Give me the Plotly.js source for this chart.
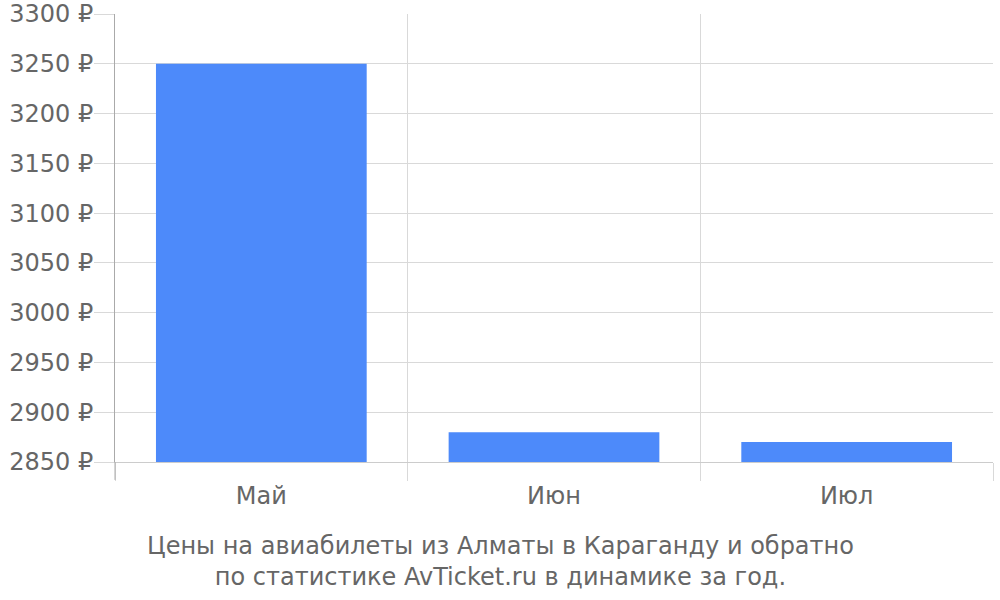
<!DOCTYPE html>
<html>
<head>
<meta charset="utf-8">
<script src="https://cdn.plot.ly/plotly-3.0.1.min.js"></script>
<style>
  html, body { margin: 0; padding: 0; background: #fff; }
  #chart { width: 1000px; height: 600px; }
</style>
</head>
<body>
<div id="chart"></div>
<script>
const months = ["Май", "Июн", "Июл"];
const prices = [3250, 2880, 2870];
const caption = "Цены на авиабилеты из Алматы в Караганду и обратно<br>по статистике AvTicket.ru в динамике за год.";

const textColor = "#666666";
const gridColor = "#d9d9d9";

const trace = {
  type: "bar",
  x: months,
  y: prices,
  width: 0.72,
  marker: { color: "#4d8afa" },
  hoverinfo: "x+y"
};

const layout = {
  width: 1000,
  height: 600,
  margin: { l: 115, r: 7, t: 14, b: 138 },
  paper_bgcolor: "#ffffff",
  plot_bgcolor: "#ffffff",
  font: { family: "DejaVu Sans, sans-serif", size: 24, color: textColor },
  showlegend: false,
  bargap: 0.28,
  xaxis: {
    type: "category",
    tickson: "boundaries",
    ticks: "outside",
    ticklen: 18,
    tickcolor: gridColor,
    ticklabelstandoff: 12,
    showgrid: true,
    gridcolor: gridColor,
    showline: true,
    linecolor: "#cccccc",
    tickfont: { size: 24, color: textColor },
    fixedrange: true
  },
  yaxis: {
    range: [2850, 3300],
    dtick: 50,
    tick0: 2850,
    ticksuffix: " ₽",
    ticks: "outside",
    ticklen: 20,
    tickcolor: gridColor,
    ticklabelstandoff: -4,
    showgrid: true,
    gridcolor: gridColor,
    showline: true,
    linecolor: "#aaaaaa",
    zeroline: false,
    tickfont: { size: 24, color: textColor },
    fixedrange: true
  },
  shapes: [{
    type: "line",
    xref: "paper", yref: "paper",
    x0: 0, x1: 0, y0: -0.04, y1: 0,
    line: { color: "#aaaaaa", width: 1 }
  }],
  annotations: [{
    text: caption,
    xref: "paper", yref: "paper",
    x: (500 - 115) / 878, y: -0.222,
    xanchor: "center", yanchor: "middle",
    showarrow: false,
    font: { size: 24, color: textColor }
  }]
};

Plotly.newPlot("chart", [trace], layout, { displayModeBar: false, staticPlot: true });
</script>
</body>
</html>
